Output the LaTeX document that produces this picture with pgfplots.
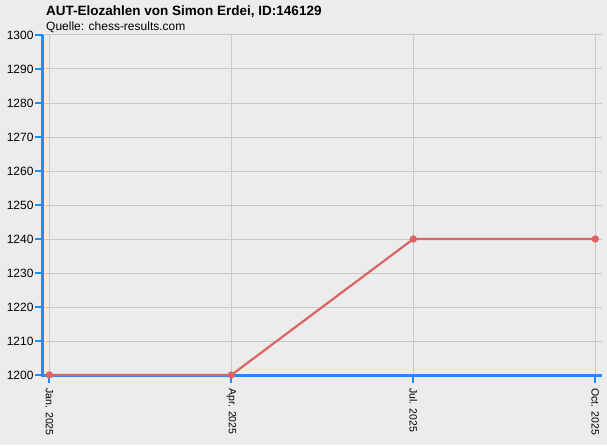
\documentclass[border=0pt]{standalone}
\usepackage{pgfplots}
\pgfplotsset{compat=1.18}
\usepackage{fontspec}
\setmainfont{Liberation Sans}
\usetikzlibrary{backgrounds,calc}

\definecolor{bg}{HTML}{ECECEC}
\definecolor{gridc}{HTML}{C8C8C8}
\definecolor{axblue}{HTML}{1E8CFF}
\definecolor{elored}{HTML}{DC6464}

\begin{document}
\begin{tikzpicture}
\begin{axis}[
    scale only axis,
    width=559pt, height=340pt,
    xmin=-0.035, xmax=3.037,
    ymin=1200, ymax=1300,
    ytick={1200,1210,...,1300},
    xtick={0,1,2,3},
    xticklabels={Jan. 2025, Apr. 2025, Jul. 2025, Oct. 2025},
    xtick pos=bottom, ytick pos=left,
    axis line style={draw=none},
    tick align=outside,
    major tick length=6pt,
    major tick style={draw=axblue, line width=2pt},
    xmajorgrids, ymajorgrids,
    major grid style={gridc, line width=1pt},
    axis background/.style={fill=bg},
    xticklabel style={yshift=-4pt, rotate=-90, anchor=west, font=\fontsize{10.5}{12}\selectfont},
    yticklabel style={font=\fontsize{12}{14}\selectfont},
    /pgf/number format/assume math mode=true,
    /pgf/number format/set thousands separator={},
    clip=false,
]
\coordinate (sw) at (rel axis cs:0,0);
\coordinate (ne) at (rel axis cs:1,1);
% blue axis lines and tick marks
\draw[axblue, line width=3pt] (rel axis cs:0,1) -- (rel axis cs:0,0) -- (rel axis cs:1,0);
\pgfplotsinvokeforeach{1200,1210,1220,1230,1240,1250,1260,1270,1280,1290,1300}{
  \draw[axblue, line width=2pt] ([xshift=-1.5pt]axis cs:-0.035,#1) -- ++(-6pt,0pt);
}
\pgfplotsinvokeforeach{0,1,2,3}{
  \draw[axblue, line width=2pt] ([yshift=-1.5pt]axis cs:#1,1200) -- ++(0pt,-6pt);
}
\addplot[elored, line width=2.2pt, mark=*, mark size=2.5pt, mark options={fill=elored}]
  coordinates {(0,1200) (1,1200) (2,1240) (3,1240)};
\end{axis}
\node[anchor=base west, inner sep=0pt, font=\fontsize{13.5}{16}\selectfont\bfseries] at ($(sw)+(3pt,359pt)$) {AUT-Elozahlen von Simon Erdei, ID:146129};
\node[anchor=base west, font=\fontsize{12}{14}\selectfont, inner sep=0pt] at ($(sw)+(3pt,344pt)$) {Quelle: chess-results.com};
\begin{scope}[on background layer]
\fill[bg] ($(sw)+(-43pt,-70pt)$) rectangle ($(ne)+(5pt,35pt)$);
\end{scope}
\end{tikzpicture}
\end{document}
